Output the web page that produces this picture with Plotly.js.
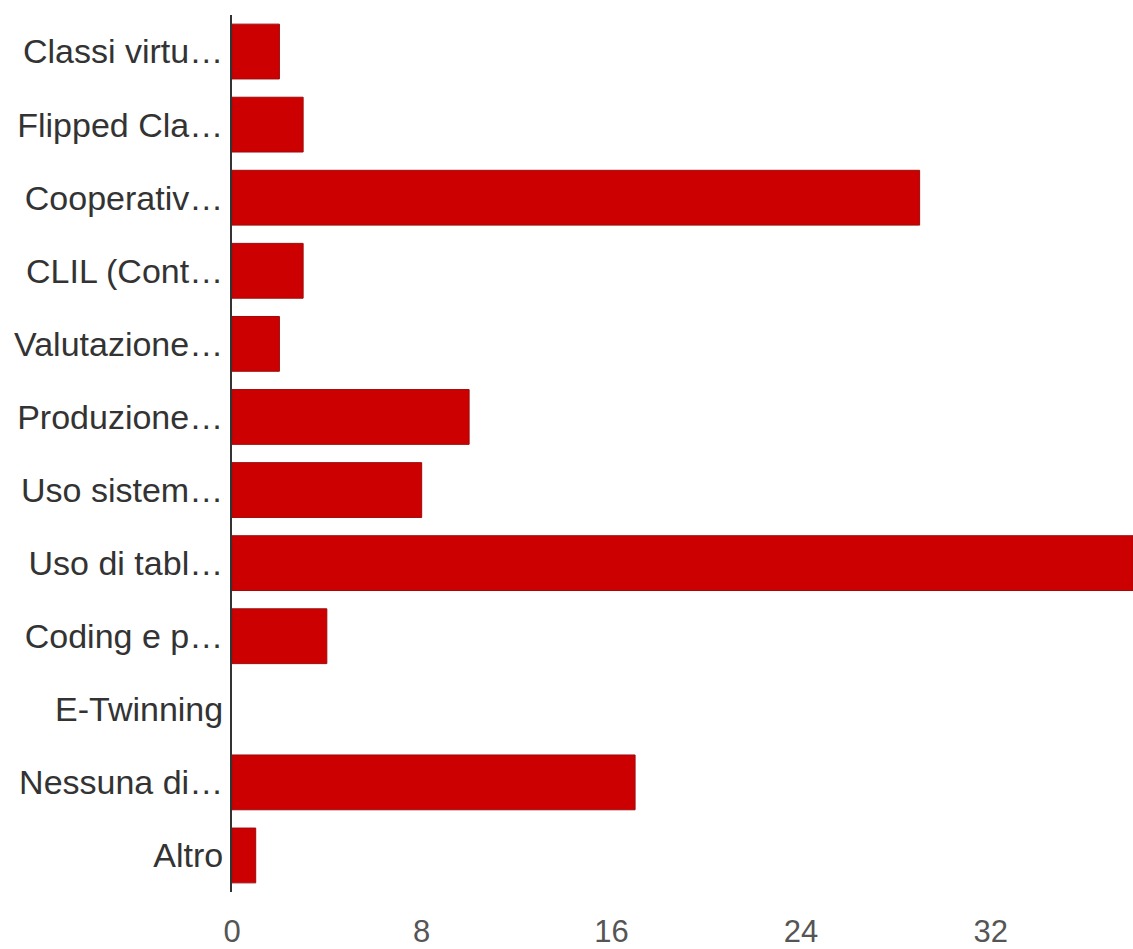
<!DOCTYPE html>
<html>
<head>
<meta charset="utf-8">
<script src="https://cdn.plot.ly/plotly-3.0.1.min.js"></script>
<style>html,body{margin:0;padding:0;background:#fff;}#chart{width:1133px;height:949px;}</style>
</head>
<body>
<div id="chart"></div>
<script>
const categories = ["Classi virtu…", "Flipped Cla…", "Cooperativ…", "CLIL (Cont…", "Valutazione…", "Produzione…", "Uso sistem…", "Uso di tabl…", "Coding e p…", "E-Twinning", "Nessuna di…", "Altro"];
const values = [2, 3, 29, 3, 2, 10, 8, 38, 4, 0, 17, 1];
const xTicks = [0, 8, 16, 24, 32];

const trace = {
  type: 'bar',
  orientation: 'h',
  y: categories,
  x: values,
  marker: {color: '#cc0000', line: {color: '#9e0a0a', width: values.map(v => v > 0 ? 1 : 0)}},
  hoverinfo: 'none'
};

const layout = {
  width: 1133,
  height: 949,
  margin: {l: 232, r: 0, t: 15, b: 57, pad: 0},
  paper_bgcolor: '#ffffff',
  plot_bgcolor: '#ffffff',
  showlegend: false,
  bargap: 0.25,
  font: {family: 'Liberation Sans, Arial, sans-serif', color: '#222'},
  xaxis: {
    range: [0, 38],
    tickvals: xTicks,
    ticktext: xTicks.map(String),
    showgrid: false,
    zeroline: false,
    showline: false,
    ticks: '',
    ticklabelstandoff: 18,
    tickfont: {size: 31, color: '#555', family: 'Liberation Sans, Arial, sans-serif'}
  },
  yaxis: {
    autorange: 'reversed',
    type: 'category',
    showgrid: false,
    zeroline: false,
    showline: true,
    linecolor: '#333',
    linewidth: 2,
    ticks: '',
    ticklabelstandoff: 0,
    tickfont: {size: 34, color: '#333', family: 'Liberation Sans, Arial, sans-serif'}
  }
};

Plotly.newPlot('chart', [trace], layout, {displayModeBar: false, staticPlot: true});
</script>
</body>
</html>
